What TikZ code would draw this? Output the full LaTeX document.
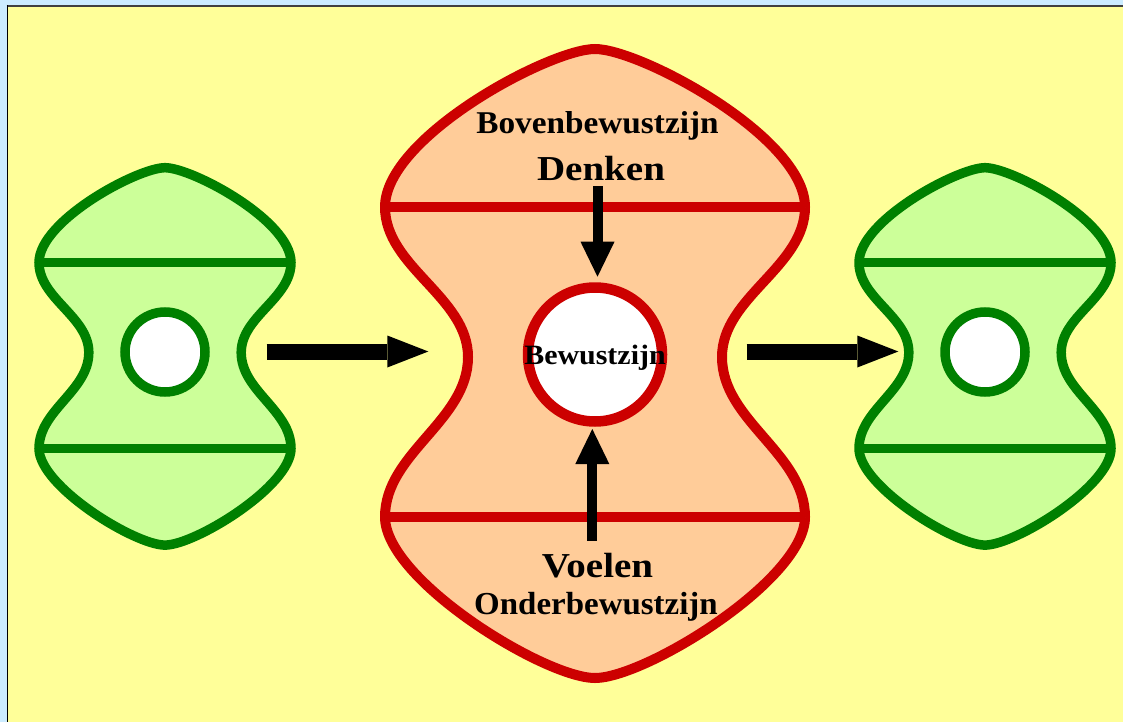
\documentclass[tikz,border=0pt]{standalone}
\usepackage{fontspec}
\setmainfont{Liberation Serif}
\usepackage{graphicx}
\usetikzlibrary{arrows.meta}
\definecolor{bgyellow}{HTML}{FFFF99}
\definecolor{bgblue}{HTML}{CCECFF}
\definecolor{peach}{HTML}{FFCC99}
\definecolor{darkred}{HTML}{CC0000}
\definecolor{lightgreen}{HTML}{CCFF99}
\definecolor{darkgreen}{HTML}{008000}
\newcommand\drawblob[4]{%
 \path[#4, shift={(#1,#2)}, scale=#3] (0,-313) .. controls (-45,-313) and (-210,-225) .. (-210,-155)
   .. controls (-210,-95) and (-127,-65) .. (-127,-5)
   .. controls (-127,59) and (-210,91) .. (-210,155)
   .. controls (-210,218) and (-50,316) .. (0,316)
   .. controls (50,316) and (210,218) .. (210,155)
   .. controls (210,91) and (127,59) .. (127,-5)
   .. controls (127,-65) and (210,-95) .. (210,-155)
   .. controls (210,-225) and (45,-313) .. (0,-313) -- cycle;
 \path[#4, shift={(#1,#2)}, scale=#3] (-210,-155) -- (210,-155) (-210,155) -- (210,155);
}
\tikzset{
  redblob/.style={fill=peach, draw=darkred, line width=10pt},
  greenblob/.style={fill=lightgreen, draw=darkgreen, line width=9.5pt},
  redring/.style={circle, fill=white, draw=darkred, line width=10.5pt, minimum size=134pt, inner sep=0pt},
  greenring/.style={circle, fill=white, draw=darkgreen, line width=9.5pt, minimum size=80pt, inner sep=0pt},
  lbl/.style={anchor=base, inner sep=0pt, font=\bfseries},
  fatarrow/.style={line width=16pt, -{Triangle[length=41pt, width=32pt, line width=0pt]}},
  thinarrow/.style={line width=10pt, -{Triangle[length=35pt, width=34pt, line width=0pt]}}
}
\begin{document}
\begin{tikzpicture}[x=1pt, y=-1pt]
\useasboundingbox (0,0) rectangle (1123,722);
\fill[bgblue] (0,0) rectangle (1123,722);
\fill[bgyellow] (7.5,6) rectangle (1123,722);
\draw[line width=1.7pt, black!75] (6.7,5.8) -- (1123,5.8);
\draw[line width=1.6pt, black] (7.5,5) -- (7.5,722);

\drawblob{165}{355.5}{0.6}{greenblob}
\drawblob{595}{362}{1}{redblob}
\drawblob{985}{355.5}{0.6}{greenblob}

\node[greenring] (g1) at (165,352) {};
\node[greenring] (g2) at (985,352) {};
\node[redring] (core) at (595,354.5) {};

\node[lbl] (boven) at (597.5,134) {\fontsize{31.7}{36}\selectfont\scalebox{1.05}[1]{Bovenbewustzijn}};
\node[lbl] (denken) at (601,180) {\fontsize{35}{40}\selectfont\scalebox{1.115}[1]{Denken}};
\node[lbl] (voelen) at (597.5,577) {\fontsize{35}{40}\selectfont\scalebox{1.115}[1]{Voelen}};
\node[lbl] (onder) at (596,614) {\fontsize{32}{36}\selectfont\scalebox{1.03}[1]{Onderbewustzijn}};
\node[lbl] (bew) at (595,364) {\fontsize{28}{32}\selectfont\scalebox{1.07}[1]{Bewustzijn}};

\coordinate (h1s) at (266.7,351.5);
\coordinate (h1e) at (428.3,351.5);
\coordinate (h2s) at (746.7,351.5);
\coordinate (h2e) at (898.3,351.5);
\coordinate (ds) at (597.5,186);
\coordinate (de) at (597.5,276.7);
\coordinate (us) at (592.3,540.7);
\coordinate (ue) at (592.3,429);
\draw[fatarrow] (h1s) -- (h1e);
\draw[fatarrow] (h2s) -- (h2e);
\draw[thinarrow] (ds) -- (de);
\draw[thinarrow] (us) -- (ue);
\end{tikzpicture}
\end{document}
